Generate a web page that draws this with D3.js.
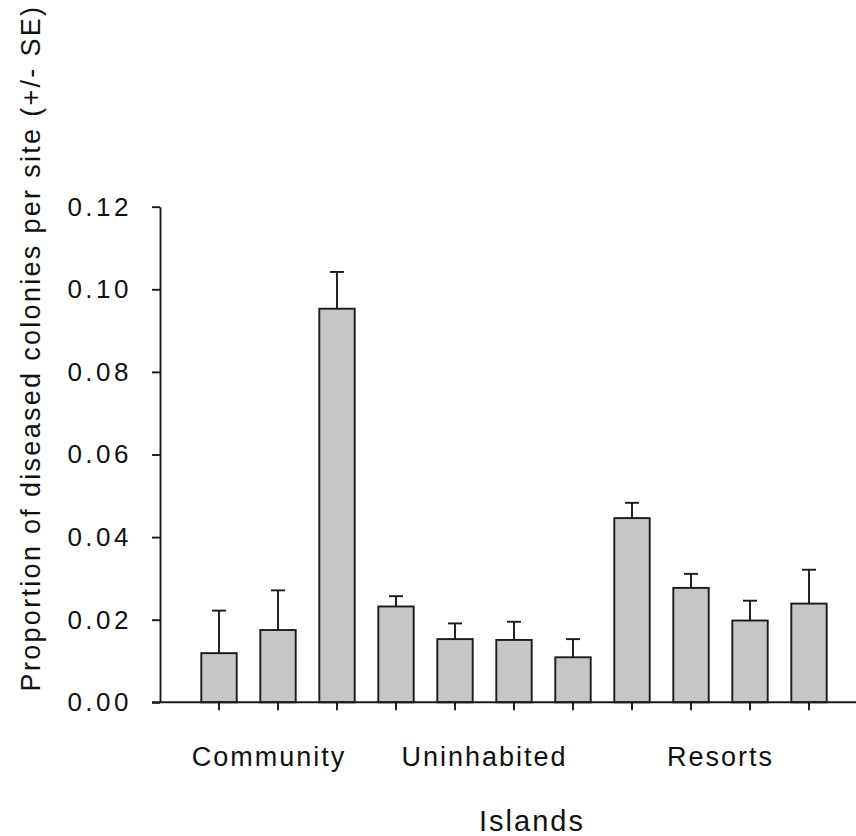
<!DOCTYPE html>
<html>
<head>
<meta charset="utf-8">
<script src="https://cdn.jsdelivr.net/npm/d3@7"></script>
<style>
  body { margin: 0; background: #fff; }
  svg { display: block; font-family: "Liberation Sans", Arial, sans-serif; }
</style>
</head>
<body>
<script>
// sites, grouped by island type
const sites = ["C1", "C2", "C3", "U1", "U2", "U3", "U4", "R1", "R2", "R3", "R4"];
const siteGroup = ["Community", "Community", "Community",
                   "Uninhabited", "Uninhabited", "Uninhabited", "Uninhabited",
                   "Resorts", "Resorts", "Resorts", "Resorts"];
const groups = ["Community", "Uninhabited", "Resorts"];

// mean proportion of diseased colonies and its SE
const means = [0.0119, 0.0175, 0.0953, 0.0232, 0.0153, 0.0151, 0.0109, 0.0446, 0.0277, 0.0198, 0.0239];
const se    = [0.0103, 0.0096, 0.0089, 0.0025, 0.0038, 0.0044, 0.0044, 0.0037, 0.0034, 0.0048, 0.0082];

const yTicks = [0, 0.02, 0.04, 0.06, 0.08, 0.10, 0.12];
const yTitle = "Proportion of diseased colonies per site (+/- SE)";
const xTitle = "Islands";

const W = 856, H = 836;
const x0 = 160, yTop = 206.7, yBase = 702.3;
const ink = "#1a1a1a";
const lw = 1.9;

const svg = d3.select("body").append("svg")
    .attr("width", W)
    .attr("height", H);

const x = d3.scaleBand()
    .domain(sites)
    .range([x0, 868])
    .paddingInner(0.4)
    .paddingOuter(0.7);

const y = d3.scaleLinear()
    .domain([0, 0.12])
    .range([yBase, yTop]);

// y axis
const yAxis = svg.append("g")
    .attr("transform", `translate(${x0},0)`)
    .call(d3.axisLeft(y)
        .tickValues(yTicks)
        .tickFormat(d3.format(".2f"))
        .tickSize(8)
        .tickSizeOuter(0)
        .tickPadding(20));
yAxis.selectAll("path, line").attr("stroke", ink).attr("stroke-width", lw);
yAxis.selectAll("text")
    .attr("fill", "#111")
    .attr("font-size", 26)
    .attr("letter-spacing", 3.5)
    .attr("font-family", "Liberation Sans, Arial, sans-serif");

// bars
svg.append("g").selectAll("rect")
    .data(sites)
    .join("rect")
    .attr("x", d => x(d))
    .attr("y", (d, i) => y(means[i]))
    .attr("width", x.bandwidth())
    .attr("height", (d, i) => y(0) - y(means[i]))
    .attr("fill", "#c6c6c6")
    .attr("stroke", ink)
    .attr("stroke-width", lw);

// error bars (upper only)
const err = svg.append("g").attr("stroke", ink).attr("stroke-width", lw);
sites.forEach((s, i) => {
    const cx = x(s) + x.bandwidth() / 2;
    err.append("line")
        .attr("x1", cx).attr("x2", cx)
        .attr("y1", y(means[i])).attr("y2", y(means[i] + se[i]));
    err.append("line")
        .attr("x1", cx - 7).attr("x2", cx + 7)
        .attr("y1", y(means[i] + se[i])).attr("y2", y(means[i] + se[i]));
});

// x axis: ticks at bar centres, base line runs past the y axis
const xAxis = svg.append("g")
    .attr("transform", `translate(0,${yBase})`)
    .call(d3.axisBottom(x).tickSize(8).tickSizeOuter(0).tickFormat(""));
xAxis.select(".domain").remove();
xAxis.selectAll("line").attr("stroke", ink).attr("stroke-width", lw);
xAxis.append("line")
    .attr("x1", x0 - 8).attr("x2", W)
    .attr("stroke", ink).attr("stroke-width", lw);

// group labels under each set of bars
svg.append("g").selectAll("text")
    .data(groups)
    .join("text")
    .attr("x", (g, k) => {
        const cs = sites.filter((s, i) => siteGroup[i] === g).map(s => x(s) + x.bandwidth() / 2);
        // first label sits a little left of its bars in the original
        return d3.mean(cs) - (k === 0 ? 9 : 0);
    })
    .attr("y", 766)
    .attr("text-anchor", "middle")
    .attr("font-size", 27)
    .attr("letter-spacing", 2)
    .attr("fill", "#111")
    .text(d => d);

// axis titles
svg.append("text")
    .attr("x", 532)
    .attr("y", 831)
    .attr("text-anchor", "middle")
    .attr("font-size", 29)
    .attr("letter-spacing", 2)
    .attr("fill", "#111")
    .text(xTitle);

svg.append("text")
    .attr("transform", "translate(40,348) rotate(-90)")
    .attr("text-anchor", "middle")
    .attr("font-size", 27)
    .attr("letter-spacing", 2.3)
    .attr("fill", "#111")
    .text(yTitle);
</script>
</body>
</html>
